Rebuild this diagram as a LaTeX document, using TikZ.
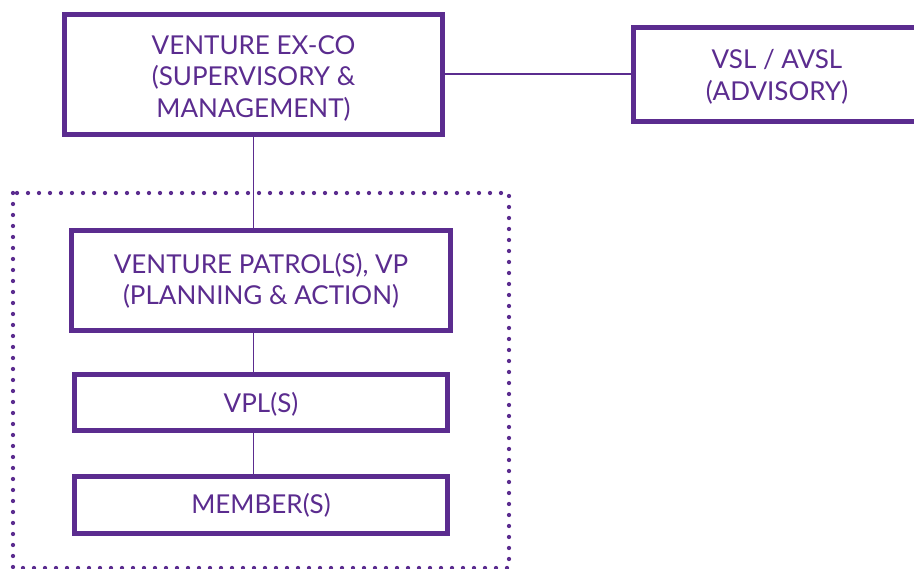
\documentclass[tikz,border=0pt]{standalone}
\usepackage{fontspec}
\setmainfont{Lato}
\definecolor{vpurple}{HTML}{5B2C8F}
\begin{document}
\begin{tikzpicture}[x=1pt,y=-1pt,
  box/.style={draw=vpurple,line width=5pt,fill=white},
  lbl/.style={text=vpurple,font=\fontsize{26}{31.5}\selectfont,align=center,inner sep=0pt},
  link/.style={draw=vpurple,line width=1.3pt},
  dotbox/.style={draw=vpurple,line width=4.3pt,line cap=round,dash pattern=on 0pt off 11pt}]
\useasboundingbox (0,0) rectangle (914,569);
% dotted frame
\draw[dotbox] (13,193) rectangle (509,568);
% boxes
\path[box] (64.5,14.5) rectangle (442.5,134.5);
\node[lbl] (exco) at (253.5,78) {VENTURE EX-CO\\(SUPERVISORY \&\\MANAGEMENT)};
\path[box] (633.5,27.5) rectangle (922,121.5);
\node[lbl] (vsl) at (777,77) {VSL / AVSL\\(ADVISORY)};
\path[box] (71.5,230.5) rectangle (450.2,330.5);
\node[lbl] (vp) at (261,281) {VENTURE PATROL(S), VP\\(PLANNING \& ACTION)};
\path[box] (74.5,374.5) rectangle (447.5,430.5);
\node[lbl] (vpl) at (261,404.5) {VPL(S)};
\path[box] (74.5,476.5) rectangle (447.5,533.5);
\node[lbl] (mem) at (261,505) {MEMBER(S)};
% connectors
\coordinate (exR) at (445,74);
\coordinate (vslL) at (631,74);
\coordinate (exB) at (253.3,137);
\coordinate (vpT) at (253.3,228);
\coordinate (vpB) at (253.3,333);
\coordinate (vplT) at (253.3,372);
\coordinate (vplB) at (253.3,433);
\coordinate (memT) at (253.3,474);
\draw[link] (exR) -- (vslL);
\draw[link] (exB) -- (vpT);
\draw[link] (vpB) -- (vplT);
\draw[link] (vplB) -- (memT);
\end{tikzpicture}
\end{document}
